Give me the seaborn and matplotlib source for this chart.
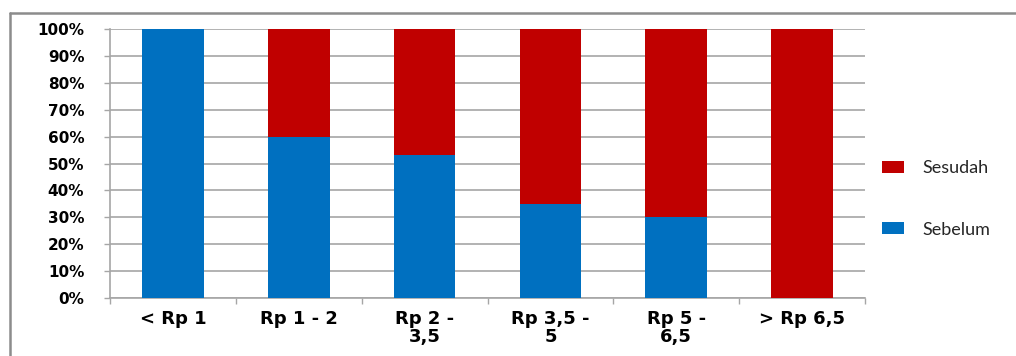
import matplotlib
matplotlib.use("Agg")
import matplotlib.pyplot as plt
from matplotlib.lines import Line2D
from matplotlib.patches import Patch
import numpy as np
import pandas as pd
import seaborn as sns

# Income groups (in millions of rupiah) and share of respondents per period
categories = ["< Rp 1", "Rp 1 - 2", "Rp 2 -\n3,5", "Rp 3,5 -\n5", "Rp 5 -\n6,5", "> Rp 6,5"]
sebelum = [100, 60, 53, 35, 30, 0]
sesudah = [0, 40, 47, 65, 70, 100]
y_ticks = list(range(0, 101, 10))

blue = "#0070C0"
red = "#C00000"
grid_gray = "#A6A6A6"

sns.set_theme(style="white")
plt.rcParams["font.family"] = ["DejaVu Sans"]

df = pd.DataFrame({"kategori": categories, "Sebelum": sebelum, "Sesudah": sesudah})
df["total"] = df["Sebelum"] + df["Sesudah"]

fig = plt.figure(figsize=(10.16, 3.56), dpi=100)
ax = fig.add_axes([110 / 1016, 1 - 298 / 356, 755 / 1016, 269 / 356])

# Stacked bars: full column in red, "Sebelum" share drawn over it in blue
sns.barplot(data=df, x="kategori", y="total", color=red, width=0.49,
            saturation=1, ax=ax, zorder=3, linewidth=0)
sns.barplot(data=df, x="kategori", y="Sebelum", color=blue, width=0.49,
            saturation=1, ax=ax, zorder=4, linewidth=0)

ax.set_xlim(-0.5, len(categories) - 0.5)
ax.set_ylim(0, 100)
ax.set_xlabel("")
ax.set_ylabel("")

ax.set_yticks(y_ticks)
ax.set_yticklabels([f"{v}%" for v in y_ticks], fontsize=11, fontweight="bold",
                   color="black")
ax.yaxis.grid(True, color=grid_gray, linewidth=1.2, zorder=0)
ax.set_axisbelow(True)

# Category labels centred under bars, tick marks at the group boundaries
ax.set_xticks(range(len(categories)))
ax.set_xticklabels(categories, fontsize=13, fontweight="bold", color="black",
                   linespacing=0.95, va="top")
ax.set_xticks(np.arange(-0.5, len(categories), 1), minor=True)
ax.tick_params(axis="x", which="major", length=0, pad=9)
ax.tick_params(axis="x", which="minor", length=4, width=1, color=grid_gray,
               direction="out", bottom=True)
ax.tick_params(axis="y", length=4.5, width=1, color=grid_gray, direction="out",
               left=True, pad=14)

for side in ("top", "right"):
    ax.spines[side].set_visible(False)
for side in ("left", "bottom"):
    ax.spines[side].set_color(grid_gray)
    ax.spines[side].set_linewidth(1.2)

handles = [Patch(facecolor=red, edgecolor="none", label="Sesudah"),
           Patch(facecolor=blue, edgecolor="none", label="Sebelum")]
fig.legend(handles=handles, loc="center left",
           bbox_to_anchor=(875 / 1016, 1 - 199 / 356),
           frameon=False, prop={"family": "Lato", "size": 13},
           handlelength=1.2, handleheight=0.6, handletextpad=1.0,
           labelspacing=2.5, borderaxespad=0)

# Outer frame along the top and left edges
fig.add_artist(Line2D([9.5 / 1016, 9.5 / 1016], [0, 1 - 13 / 356],
                      transform=fig.transFigure, color="#8C8C8C", linewidth=1.8))
fig.add_artist(Line2D([9.5 / 1016, 1], [1 - 13 / 356, 1 - 13 / 356],
                      transform=fig.transFigure, color="#8C8C8C", linewidth=1.8))

fig.savefig("out.png", dpi=100, facecolor="white")
